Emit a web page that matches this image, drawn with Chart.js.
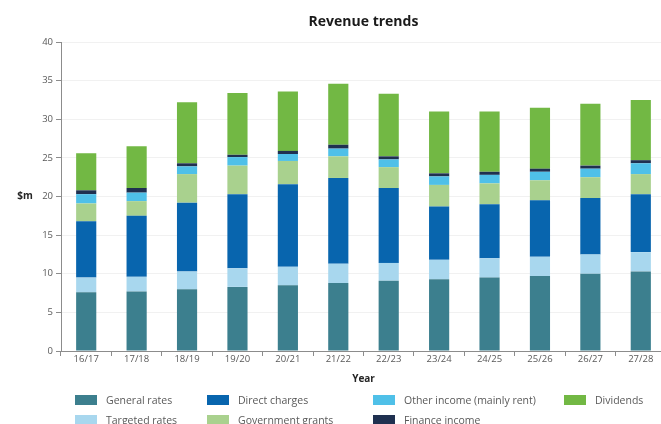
<!DOCTYPE html>
<html>
<head>
<meta charset="utf-8">
<title>Revenue trends</title>
<script src="https://cdn.jsdelivr.net/npm/chart.js@4.4.1/dist/chart.umd.min.js"></script>
<style>
  html, body { margin: 0; padding: 0; background: #ffffff; }
  #wrap { position: relative; width: 661px; height: 424px; overflow: hidden; }
  #c { display: block; }
  #legend {
    position: absolute; left: 75px; top: 390px;
    display: grid; grid-auto-flow: column;
    grid-template-rows: 20px 19px;
    grid-template-columns: 132px 166px 191px 90px;
    font: 10.5px 'Open Sans', sans-serif; color: #595959;
  }
  .item { display: flex; align-items: center; white-space: nowrap; }
  .sw { width: 22px; height: 10px; margin-right: 9px; flex: none; }
</style>
</head>
<body>
<div id="wrap">
  <canvas id="c" width="667" height="424" style="width:667px;height:424px"></canvas>
  <div id="legend"></div>
</div>
<script>
// Financial years on the x axis
const years = ['16/17', '17/18', '18/19', '19/20', '20/21', '21/22', '22/23', '23/24', '24/25', '25/26', '26/27', '27/28'];

// Revenue by source, $m (stacked bottom to top)
const generalRates     = [7.6, 7.7, 8.0, 8.3, 8.5, 8.8, 9.1, 9.3, 9.5, 9.7, 10.0, 10.3];
const targetedRates    = [1.9, 1.9, 2.3, 2.4, 2.4, 2.5, 2.3, 2.5, 2.5, 2.5, 2.5, 2.5];
const directCharges    = [7.3, 7.9, 8.9, 9.6, 10.7, 11.1, 9.7, 6.9, 7.0, 7.3, 7.3, 7.5];
const governmentGrants = [2.3, 1.9, 3.7, 3.7, 3.0, 2.8, 2.7, 2.8, 2.7, 2.6, 2.7, 2.6];
const otherIncome      = [1.2, 1.1, 1.0, 1.1, 0.9, 1.0, 1.0, 1.1, 1.1, 1.1, 1.1, 1.4];
const financeIncome    = [0.5, 0.6, 0.4, 0.3, 0.4, 0.5, 0.4, 0.4, 0.4, 0.4, 0.4, 0.4];
const dividends        = [4.8, 5.4, 7.9, 8.0, 7.7, 7.9, 8.1, 8.0, 7.8, 7.9, 8.0, 7.8];

// y axis range
const yMin = 0, yMax = 40, yStep = 5;

const series = [
  { label: 'General rates',              data: generalRates,     color: '#3c7f8e' },
  { label: 'Targeted rates',             data: targetedRates,    color: '#a8d7ee' },
  { label: 'Direct charges',             data: directCharges,    color: '#0865ae' },
  { label: 'Government grants',          data: governmentGrants, color: '#a9d18e' },
  { label: 'Other income (mainly rent)', data: otherIncome,      color: '#4fc0e8' },
  { label: 'Finance income',             data: financeIncome,    color: '#1f3050' },
  { label: 'Dividends',                  data: dividends,        color: '#72b844' }
];

const FONT = "'Open Sans', sans-serif";
const TEXT = '#595959';
const AXIS = '#8c8c8c';

// Title centred over the plot area and a horizontal "$m" beside the y axis
const labels = {
  id: 'labels',
  afterDraw(chart) {
    const { ctx, chartArea } = chart;
    ctx.save();
    ctx.textAlign = 'center';
    ctx.textBaseline = 'middle';
    ctx.fillStyle = '#1a1a1a';
    ctx.font = "bold 14px " + FONT;
    ctx.fillText('Revenue trends', (chartArea.left + chartArea.right) / 2, 22);
    ctx.fillStyle = '#262626';
    ctx.font = "bold 10px " + FONT;
    ctx.fillText('$m', 25, (chartArea.top + chartArea.bottom) / 2);
    ctx.restore();
  }
};

const chart = new Chart(document.getElementById('c'), {
  type: 'bar',
  data: {
    labels: years,
    datasets: series.map(s => ({
      label: s.label,
      data: s.data,
      backgroundColor: s.color,
      borderWidth: 0,
      barPercentage: 0.8,
      categoryPercentage: 0.5
    }))
  },
  options: {
    responsive: false,
    animation: false,
    layout: { padding: { left: 0, right: 1, top: 42, bottom: 36 } },
    plugins: {
      legend: { display: false },
      tooltip: { enabled: false },
      title: { display: false }
    },
    scales: {
      x: {
        stacked: true,
        afterFit(scale) { scale.height = 37; },
        border: { color: AXIS, width: 1 },
        grid: { display: true, offset: true, drawOnChartArea: false, drawTicks: true, tickLength: 5, tickColor: AXIS },
        ticks: { color: TEXT, font: { family: FONT, size: 9.5 }, maxRotation: 0, padding: -2 },
        title: {
          display: true, text: 'Year', color: '#262626',
          font: { family: FONT, size: 10, weight: 'bold' },
          padding: { top: 4, bottom: 3 }
        }
      },
      y: {
        stacked: true,
        min: yMin, max: yMax,
        afterFit(scale) { scale.width = 61; },
        border: { color: AXIS, width: 1 },
        grid: { color: '#f1f1f1', drawTicks: true, tickLength: 5, tickColor: AXIS },
        ticks: { stepSize: yStep, color: TEXT, font: { family: FONT, size: 9.5 }, padding: 3 }
      }
    }
  },
  plugins: [labels]
});

// Legend laid out in columns of two, in dataset order
const legendEl = document.getElementById('legend');
chart.data.datasets.forEach(ds => {
  const item = document.createElement('div');
  item.className = 'item';
  const sw = document.createElement('span');
  sw.className = 'sw';
  sw.style.background = ds.backgroundColor;
  const txt = document.createElement('span');
  txt.textContent = ds.label;
  item.appendChild(sw);
  item.appendChild(txt);
  legendEl.appendChild(item);
});
</script>
</body>
</html>
